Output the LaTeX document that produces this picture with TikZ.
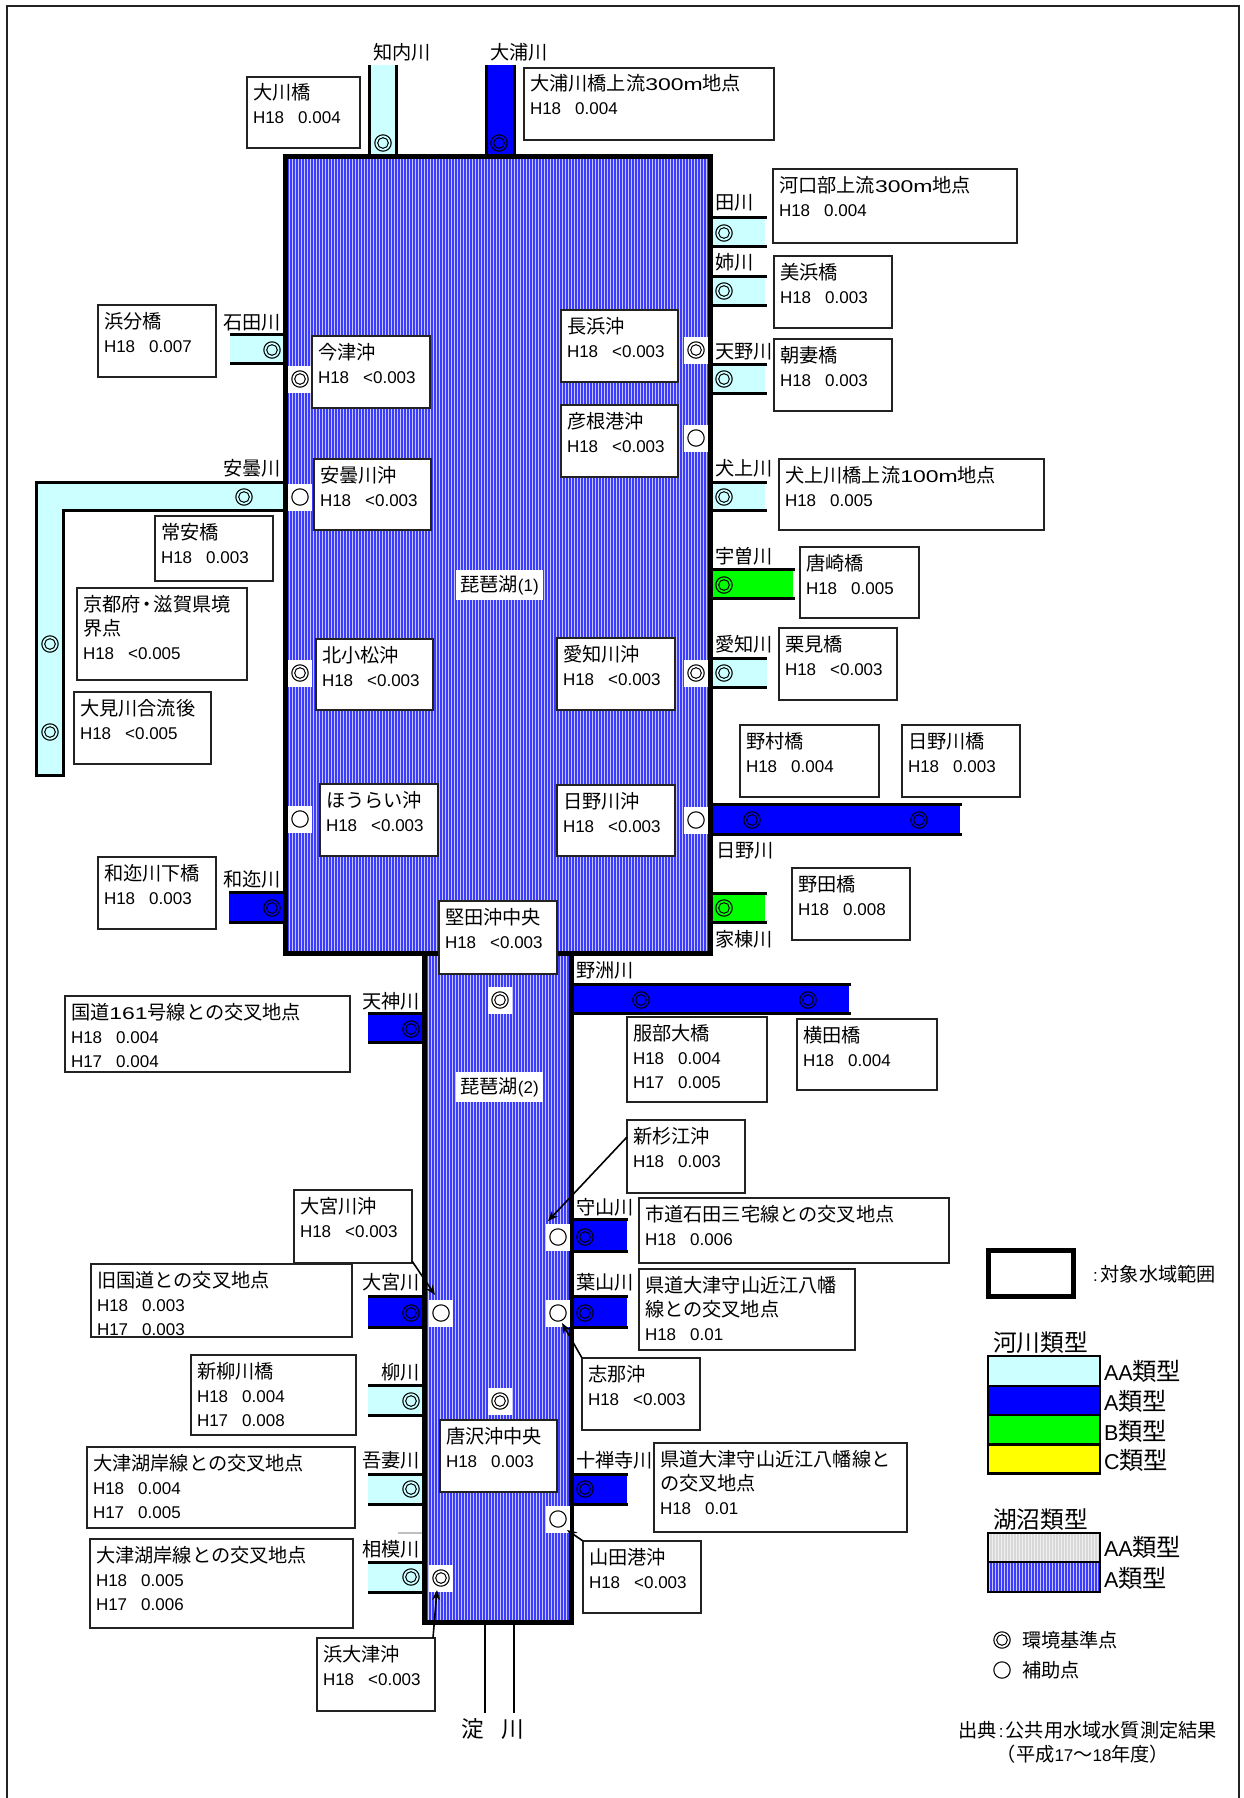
\documentclass[tikz,border=0pt]{standalone}
\usepackage{fontspec}
\usetikzlibrary{arrows.meta}
\setmainfont{Liberation Sans}
\newfontfamily\jpfont[Scale=1.13]{Noto Sans CJK JP}
\newfontfamily\mkfont[Scale=1.118,FakeBold=1.2]{Noto Sans CJK JP}
\newfontfamily\widef[FakeStretch=1.35]{Liberation Sans}
\newcommand\jp[1]{{\jpfont #1}}
\newcommand\hv[2]{H#1\hspace{14pt}#2}
\newcommand\boxfont{\fontsize{17}{24}\selectfont}
\definecolor{ltcyan}{HTML}{CCFFFF}
\definecolor{rblue}{HTML}{0000FF}
\definecolor{rgreen}{HTML}{00FF00}
\definecolor{ryellow}{HTML}{FFFF00}
\definecolor{strbg}{HTML}{3C3CFF}
\definecolor{strln}{HTML}{C8C8FF}
\definecolor{grybg}{HTML}{D8D8D8}
\definecolor{gryln}{HTML}{F0F0F0}
\definecolor{ink}{HTML}{222222}
\tikzset{
  infobox/.style={draw=ink,line width=1.3pt,fill=white,inner sep=0pt,outer sep=0pt},
  riverline/.style={line width=3pt,draw=black},
  lakeline/.style={line width=5pt,draw=black,miter limit=10},
  lab/.style={inner sep=0pt,outer sep=0pt,font=\boxfont},
  mk/.style={inner sep=0pt,outer sep=0pt,font=\fontsize{17}{17}\selectfont\mkfont},
  mkw/.style={mk,fill=white,minimum width=24pt,minimum height=27pt},
  pointer/.style={line width=1.6pt,draw=black,-{Stealth[length=10pt,width=8pt]}},
  legrow/.style={line width=2.6pt,draw=black},
}
\newcommand\ibox[6]{\node[infobox,anchor=north west] (#1) at (#2,#3) {\parbox[c][#5pt][t]{#4pt}{\boxfont\raggedright\leftskip=6pt\relax\rule{0pt}{23pt}#6}};}
\newcommand\labL[4]{\node[lab,anchor=base west] (#1) at (#2,#3+7) {\jp{#4}};}
\newcommand\labR[4]{\node[lab,anchor=base east] (#1) at (#2,#3+7) {\jp{#4}};}
\newcommand\rivR[5]{\fill[#5] (713,#1) rectangle (#3,#2);\draw[riverline] (713,#1) -- (#4,#1) (713,#2) -- (#4,#2);}
\newcommand\rivL[4]{\fill[#4] (#3,#1) rectangle (422,#2);\draw[riverline] (#3,#1) -- (422,#1) (#3,#2) -- (422,#2);}
\newcommand\stripes[6]{\fill[#5] (#1,#2) rectangle (#3,#4);\draw[#6,line width=1pt] \foreach \sx in {#1,\the\numexpr#1+3\relax,...,#3} {(\sx+1,#2) -- (\sx+1,#4)};}
\newcommand\mkd[3]{\node[mk] (#1) at (#2,#3) {◎};}
\newcommand\mko[3]{\node[mk] (#1) at (#2,#3) {○};}
\newcommand\wmd[3]{\node[mkw] (#1) at (#2,#3) {◎};}
\newcommand\wmo[3]{\node[mkw] (#1) at (#2,#3) {○};}
\begin{document}
\begin{tikzpicture}[x=1pt,y=-1pt]
\useasboundingbox (0,0) rectangle (1244,1798);
\fill[white] (0,0) rectangle (1244,1798);
\draw[draw=ink,line width=2pt] (6.5,1798) -- (6.5,6) -- (1239,6) -- (1239,1798);
% rivers top
\fill[ltcyan] (369,65) rectangle (397,154);
\draw[riverline] (369.5,65) -- (369.5,154) (396.5,65) -- (396.5,154);
\fill[rblue] (485,65) rectangle (515,154);
\draw[riverline] (486,65) -- (486,154) (514,65) -- (514,154);
% rivers right of lake 1
\rivR{217}{246}{765}{767}{ltcyan}
\rivR{276}{305}{765}{767}{ltcyan}
\rivR{364}{393}{765}{767}{ltcyan}
\rivR{482}{510}{765}{767}{ltcyan}
\rivR{569}{598}{793}{795}{rgreen}
\rivR{658}{687}{767}{767}{ltcyan}
\rivR{804}{834}{960}{962}{rblue}
\rivR{893}{922}{765}{767}{rgreen}
% left of lake 1
\fill[ltcyan] (230,334) rectangle (283,363);
\draw[riverline] (230,334) -- (283,334) (230,363) -- (283,363);
\fill[rblue] (229,892) rectangle (283,922);
\draw[riverline] (229,892) -- (283,892) (229,922) -- (283,922);
% Ado river
\fill[ltcyan] (36,482) -- (283,482) -- (283,510) -- (63,510) -- (63,775) -- (36,775) -- cycle;
\draw[riverline,line cap=butt] (283,482) -- (36,482) -- (36,775) -- (63,775) -- (63,510) -- (283,510);
% lake 2 side rivers
\fill[rblue] (574,984) rectangle (849,1013);
\draw[riverline] (574,984) -- (851,984) (574,1013) -- (851,1013);
\rivL{1013}{1042}{368}{rblue}
\rivL{1296}{1327}{368}{rblue}
\rivL{1385}{1415}{368}{ltcyan}
\rivL{1474}{1504}{368}{ltcyan}
\rivL{1562}{1592}{368}{ltcyan}
\draw[line width=2pt,draw=black!25] (398,1533) -- (422,1533);
\fill[rblue] (574,1219) rectangle (627,1251);
\draw[riverline] (574,1219) -- (628,1219) (574,1251) -- (628,1251);
\fill[rblue] (574,1296) rectangle (627,1327);
\draw[riverline] (574,1296) -- (628,1296) (574,1327) -- (628,1327);
\fill[rblue] (574,1474) rectangle (627,1504);
\draw[riverline] (574,1474) -- (628,1474) (574,1504) -- (628,1504);
% Yodo river
\draw[line width=2.2pt] (485,1625) -- (485,1713) (514,1625) -- (514,1713);
% lakes
\stripes{288}{159}{708}{951}{strbg}{strln}
\stripes{427}{956}{569}{1620}{strbg}{strln}
\draw[lakeline] (285.5,156.5) rectangle (710.5,953.5);
\draw[lakeline] (424.5,953.5) rectangle (571.5,1622.5);
% lake labels
\node[lab,fill=white,minimum width=87pt,minimum height=30pt] (lakeone) at (499.5,585) {\jp{琵琶湖}(1)};
\node[lab,fill=white,minimum width=87pt,minimum height=30pt] (laketwo) at (499.5,1087) {\jp{琵琶湖}(2)};
% river labels
\labL{tachi}{373}{53}{知内川}
\labL{oura}{490}{53}{大浦川}
\labR{ishida}{281}{322}{石田川}
\labR{ado}{281}{468}{安曇川}
\labR{wani}{281}{879}{和迩川}
\labL{tagawa}{715}{203}{田川}
\labL{ane}{715}{262}{姉川}
\labL{amano}{715}{351}{天野川}
\labL{inu}{715}{468}{犬上川}
\labL{uso}{715}{556}{宇曽川}
\labL{echi}{715}{644}{愛知川}
\labL{hino}{716}{850}{日野川}
\labL{yana}{715}{939}{家棟川}
\labL{yasu}{576}{970}{野洲川}
\labR{ten}{420}{1001}{天神川}
\labR{omiya}{420}{1282}{大宮川}
\labR{yanagi}{420}{1372}{柳川}
\labR{azuma}{420}{1460}{吾妻川}
\labR{sagami}{420}{1549}{相模川}
\labL{moriy}{576}{1207}{守山川}
\labL{hayama}{576}{1282}{葉山川}
\labL{jizen}{576}{1460}{十禅寺川}
\node[lab,anchor=base,font=\fontsize{20}{20}\selectfont] (yodoa) at (473,1737) {\jp{淀}};
\node[lab,anchor=base,font=\fontsize{20}{20}\selectfont] (yodob) at (513,1737) {\jp{川}};
% river markers
\mkd{m01}{383}{143}
\mkd{m02}{499}{143}
\mkd{m03}{272}{350}
\mkd{m04}{244}{497}
\mkd{m05}{50}{644}
\mkd{m06}{50}{732}
\mkd{m07}{724}{233}
\mkd{m08}{724}{291}
\mkd{m09}{724}{379}
\mkd{m10}{724}{497}
\mkd{m11}{724}{585}
\mkd{m12}{724}{673}
\mkd{m13}{752}{820}
\mkd{m14}{919}{820}
\mkd{m15}{724}{908}
\mkd{m16}{272}{908}
\mkd{m17}{641}{1000}
\mkd{m18}{808}{1000}
\mkd{m19}{411}{1029}
\mkd{m20}{411}{1313}
\mkd{m21}{411}{1401}
\mkd{m22}{411}{1489}
\mkd{m23}{411}{1577}
\mkd{m24}{585}{1237}
\mkd{m25}{585}{1313}
\mkd{m26}{585}{1489}
% lake markers
\wmd{k01}{300}{379}
\wmo{k02}{300}{497}
\wmd{k03}{300}{673}
\wmo{k04}{300}{819}
\wmd{k05}{696}{350}
\wmo{k06}{696}{438}
\wmd{k07}{696}{673}
\wmo{k08}{696}{820}
\wmd{k09}{500}{1000}
\wmd{k10}{500}{1401}
\wmo{k11}{558}{1237}
\wmo{k12}{558}{1313}
\wmo{k13}{558}{1519}
\wmo{k14}{441}{1313}
\wmd{k15}{441}{1578}
% info boxes
\ibox{bA}{247}{77}{113}{71}{\jp{大川橋}\\\hv{18}{0.004}}
\ibox{bB}{524}{68}{250}{72}{\jp{大浦川橋上流}{\widef 300m}\jp{地点}\\\hv{18}{0.004}}
\ibox{bC}{773}{169}{244}{74}{\jp{河口部上流}{\widef 300m}\jp{地点}\\\hv{18}{0.004}}
\ibox{bD}{774}{256}{118}{72}{\jp{美浜橋}\\\hv{18}{0.003}}
\ibox{bE}{774}{339}{118}{72}{\jp{朝妻橋}\\\hv{18}{0.003}}
\ibox{bF}{779}{459}{265}{71}{\jp{犬上川橋上流}{\widef 100m}\jp{地点}\\\hv{18}{0.005}}
\ibox{bG}{800}{547}{119}{71}{\jp{唐崎橋}\\\hv{18}{0.005}}
\ibox{bH}{779}{628}{118}{72}{\jp{栗見橋}\\\hv{18}{<0.003}}
\ibox{bI}{740}{725}{139}{72}{\jp{野村橋}\\\hv{18}{0.004}}
\ibox{bJ}{902}{725}{118}{72}{\jp{日野川橋}\\\hv{18}{0.003}}
\ibox{bK}{792}{868}{118}{72}{\jp{野田橋}\\\hv{18}{0.008}}
\ibox{bL}{627}{1017}{140}{85}{\jp{服部大橋}\\\hv{18}{0.004}\\\hv{17}{0.005}}
\ibox{bM}{797}{1019}{140}{71}{\jp{横田橋}\\\hv{18}{0.004}}
\ibox{bN}{561}{310}{117}{72}{\jp{長浜沖}\\\hv{18}{<0.003}}
\ibox{bO}{561}{405}{117}{72}{\jp{彦根港沖}\\\hv{18}{<0.003}}
\ibox{bP}{312}{336}{118}{72}{\jp{今津沖}\\\hv{18}{<0.003}}
\ibox{bQ}{314}{459}{117}{71}{\jp{安曇川沖}\\\hv{18}{<0.003}}
\ibox{bR}{155}{516}{118}{65}{\jp{常安橋}\\\hv{18}{0.003}}
\ibox{bS}{98}{305}{118}{72}{\jp{浜分橋}\\\hv{18}{0.007}}
\ibox{bT}{77}{588}{170}{92}{\jp{京都府}\hspace{-3pt}\jp{・}\hspace{-3pt}\jp{滋賀県境}\\\jp{界点}\\\hv{18}{<0.005}}
\ibox{bU}{74}{692}{137}{72}{\jp{大見川合流後}\\\hv{18}{<0.005}}
\ibox{bV}{316}{639}{117}{71}{\jp{北小松沖}\\\hv{18}{<0.003}}
\ibox{bW}{557}{638}{118}{72}{\jp{愛知川沖}\\\hv{18}{<0.003}}
\ibox{bX}{320}{784}{118}{72}{\jp{ほうらい沖}\\\hv{18}{<0.003}}
\ibox{bY}{557}{785}{118}{71}{\jp{日野川沖}\\\hv{18}{<0.003}}
\ibox{bZ}{98}{857}{118}{72}{\jp{和迩川下橋}\\\hv{18}{0.003}}
\ibox{ca}{439}{901}{118}{73}{\jp{堅田沖中央}\\\hv{18}{<0.003}}
\ibox{cb}{65}{996}{285}{76}{\jp{国道}{\widef 161}\jp{号線との交叉地点}\\\hv{18}{0.004}\\\hv{17}{0.004}}
\ibox{cc}{294}{1190}{118}{73}{\jp{大宮川沖}\\\hv{18}{<0.003}}
\ibox{cd}{91}{1264}{261}{73}{\jp{旧国道との交叉地点}\\\hv{18}{0.003}\\\hv{17}{0.003}}
\ibox{ce}{191}{1355}{165}{80}{\jp{新柳川橋}\\\hv{18}{0.004}\\\hv{17}{0.008}}
\ibox{cf}{87}{1447}{268}{81}{\jp{大津湖岸線との交叉地点}\\\hv{18}{0.004}\\\hv{17}{0.005}}
\ibox{cg}{90}{1539}{263}{89}{\jp{大津湖岸線との交叉地点}\\\hv{18}{0.005}\\\hv{17}{0.006}}
\ibox{ch}{317}{1638}{118}{73}{\jp{浜大津沖}\\\hv{18}{<0.003}}
\ibox{ci}{440}{1420}{117}{72}{\jp{唐沢沖中央}\\\hv{18}{0.003}}
\ibox{cj}{627}{1120}{118}{73}{\jp{新杉江沖}\\\hv{18}{0.003}}
\ibox{ck}{639}{1198}{310}{65}{\jp{市道石田三宅線との交叉地点}\\\hv{18}{0.006}}
\ibox{cl}{639}{1269}{216}{81}{\jp{県道大津守山近江八幡}\\\jp{線との交叉地点}\\\hv{18}{0.01}}
\ibox{cm}{582}{1358}{118}{72}{\jp{志那沖}\\\hv{18}{<0.003}}
\ibox{cn}{654}{1443}{253}{89}{\jp{県道大津守山近江八幡線と}\\\jp{の交叉地点}\\\hv{18}{0.01}}
\ibox{co}{583}{1541}{118}{72}{\jp{山田港沖}\\\hv{18}{<0.003}}
% pointers
\draw[pointer] ([yshift=-17pt]cj.north west) -- ([xshift=-10pt,yshift=16pt]k11.center);
\draw[pointer] ([yshift=2pt]cc.south east) -- ([xshift=-6pt,yshift=18pt]k14.center);
\draw[pointer] (cm.north west) -- ([xshift=4pt,yshift=-10pt]k12.center);
\draw[pointer] (co.north west) -- ([xshift=9pt,yshift=-11pt]k13.center);
\draw[pointer] ([xshift=-2pt]ch.north east) -- ([xshift=-4pt,yshift=-12pt]k15.center);
% legend
\draw[lakeline] (988.5,1250.5) rectangle (1073,1296);
\node[lab,anchor=base west] (legrange) at (1093,1281) {:\hspace{3pt}\jp{対象水域範囲}};
\node[lab,anchor=base west,font=\fontsize{21}{22}\selectfont] (legriver) at (993,1351.5) {\jp{河川類型}};
\filldraw[legrow,fill=ltcyan] (988,1356) rectangle (1100,1386);
\filldraw[legrow,fill=rblue] (988,1386) rectangle (1100,1415);
\filldraw[legrow,fill=rgreen] (988,1415) rectangle (1100,1444.5);
\filldraw[legrow,fill=ryellow] (988,1444.5) rectangle (1100,1473.5);
\node[lab,anchor=base west,font=\fontsize{21.5}{22}\selectfont] (lr1) at (1104,1380.5) {AA\jp{類型}};
\node[lab,anchor=base west,font=\fontsize{21.5}{22}\selectfont] (lr2) at (1104,1410.5) {A\jp{類型}};
\node[lab,anchor=base west,font=\fontsize{21.5}{22}\selectfont] (lr3) at (1104,1440.5) {B\jp{類型}};
\node[lab,anchor=base west,font=\fontsize{21.5}{22}\selectfont] (lr4) at (1104,1469.5) {C\jp{類型}};
\node[lab,anchor=base west,font=\fontsize{21}{22}\selectfont] (leglake) at (993,1528) {\jp{湖沼類型}};
\stripes{988}{1533}{1100}{1562}{grybg}{gryln}
\stripes{988}{1562}{1100}{1592}{strbg}{strln}
\draw[legrow] (988,1533) rectangle (1100,1592) (988,1562) -- (1100,1562);
\node[lab,anchor=base west,font=\fontsize{21.5}{22}\selectfont] (ll1) at (1104,1556) {AA\jp{類型}};
\node[lab,anchor=base west,font=\fontsize{21.5}{22}\selectfont] (ll2) at (1104,1587) {A\jp{類型}};
\mkd{lm1}{1002}{1640}
\mko{lm2}{1002}{1670}
\labL{lt1}{1022}{1640}{環境基準点}
\labL{lt2}{1022}{1670}{補助点}
\node[lab,anchor=base east] (src1) at (1217,1737.5) {\jp{出典}\hspace{2pt}:\hspace{2pt}\jp{公共用水域水質測定結果}};
\node[lab,anchor=base] (src2) at (1083,1761.5) {\jp{（平成}17\jp{～}18\jp{年度）}};
\end{tikzpicture}
\end{document}
